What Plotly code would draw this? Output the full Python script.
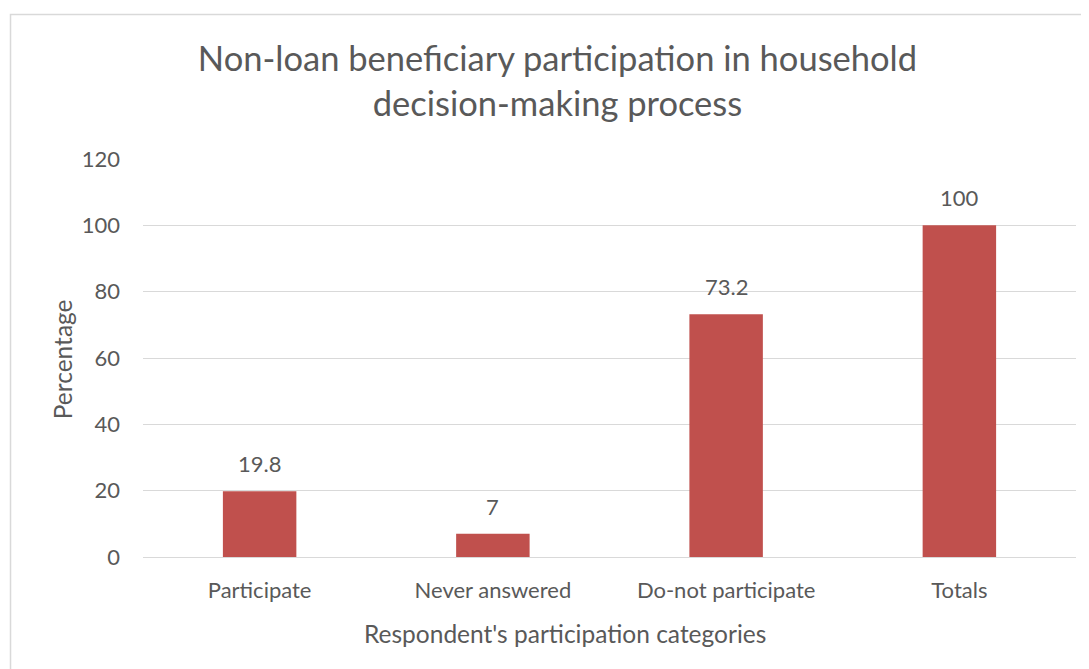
import plotly.graph_objects as go

categories = ["Participate", "Never answered", "Do-not participate", "Totals"]
values = [19.8, 7, 73.2, 100]
labels = ["19.8", "7", "73.2", "100"]

TEXT = "#595959"
FONT = "Lato, Open Sans, sans-serif"

fig = go.Figure(go.Bar(
    x=categories, y=values,
    marker=dict(color="#c0504d", line=dict(width=0)),
    hoverinfo="x+y",
))

# data labels above bars
for cat, val, lab in zip(categories, values, labels):
    fig.add_annotation(
        x=cat, y=val, text=lab, showarrow=False,
        yanchor="bottom", yshift=12,
        font=dict(size=22, color=TEXT, family=FONT),
    )

# axis titles (Excel puts them slightly off-centre)
fig.add_annotation(
    text="Respondent's participation categories", showarrow=False,
    xref="paper", yref="paper", x=0.452, y=-0.193,
    xanchor="center", yanchor="middle",
    font=dict(size=24.5, color=TEXT, family=FONT),
)
fig.add_annotation(
    text="Percentage", showarrow=False, textangle=-90,
    xref="paper", yref="paper", x=-0.0868, y=0.497,
    xanchor="center", yanchor="middle",
    font=dict(size=24.5, color=TEXT, family=FONT),
)

fig.update_layout(
    width=1081, height=661,
    paper_bgcolor="white", plot_bgcolor="white",
    margin=dict(l=135, r=13, t=151, b=112),
    bargap=0.685,
    showlegend=False,
    font=dict(family=FONT, color=TEXT, size=22),
    title=dict(
        text="Non-loan beneficiary participation in household<br>decision-making process",
        x=0.5083, xref="container", xanchor="center",
        y=0.9044, yanchor="middle",
        font=dict(size=34.5, color=TEXT, family=FONT),
    ),
    xaxis=dict(
        showgrid=False, showline=False, ticks="",
        tickfont=dict(size=22, color=TEXT), ticklabelstandoff=18,
    ),
    yaxis=dict(
        range=[0, 120], dtick=20, tick0=0,
        showgrid=True, gridcolor="#d9d9d9", gridwidth=1,
        zeroline=True, zerolinecolor="#d9d9d9", zerolinewidth=1,
        showline=False, ticks="", ticklabelstandoff=22,
        tickfont=dict(size=22, color=TEXT),
    ),
    shapes=[dict(
        type="rect", xref="paper", yref="paper",
        x0=-0.142, x1=1.03, y0=-0.32, y1=1.363,
        line=dict(color="#d9d9d9", width=1.5), fillcolor="rgba(0,0,0,0)", layer="below",
    )],
)

fig.write_html("out.html")
